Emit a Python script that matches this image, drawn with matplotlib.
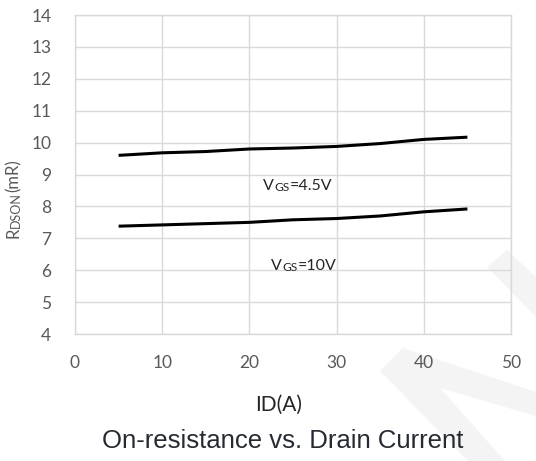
import matplotlib.pyplot as plt
from matplotlib.patches import Polygon

# drain current (A)
id_a = [5, 10, 15, 20, 25, 30, 35, 40, 45]
# on-resistance (mR)
rdson_45v = [9.60, 9.68, 9.72, 9.80, 9.83, 9.88, 9.97, 10.10, 10.17]
rdson_10v = [7.38, 7.42, 7.46, 7.50, 7.58, 7.62, 7.70, 7.83, 7.92]

x_ticks = [0, 10, 20, 30, 40, 50]
y_ticks = list(range(4, 15))

TICK_FONT = 'Lato'
GRID_COLOR = '#d9d9d9'
TEXT_GRAY = '#595959'
W, H = 536, 461

fig = plt.figure(figsize=(5.36, 4.61), dpi=100)

# faint watermark in the lower right corner (figure pixel coords)
wm = [
    [(487, 267), (507, 250), (536, 277), (536, 317)],
    [(380, 371), (403, 348), (536, 392), (536, 416), (440, 388), (505, 461), (468, 461)],
]
for pts in wm:
    fig.patches.append(Polygon([(x / W, 1 - y / H) for x, y in pts], closed=True,
                               transform=fig.transFigure, color='#f4f4f4', lw=0, zorder=-5))

ax = fig.add_axes([75 / W, 1 - 334 / H, 436 / W, 319 / H])
ax.patch.set_alpha(0)

ax.plot(id_a, rdson_45v, color='black', lw=2.2, solid_capstyle='butt')
ax.plot(id_a, rdson_10v, color='black', lw=2.2, solid_capstyle='butt')

ax.set_xlim(0, 50)
ax.set_ylim(4, 14)
ax.set_xticks(x_ticks)
ax.set_yticks(y_ticks)
ax.grid(True, color=GRID_COLOR, lw=1)
ax.set_axisbelow(True)
for s in ax.spines.values():
    s.set_color(GRID_COLOR)
    s.set_linewidth(1)
ax.tick_params(length=0, labelsize=12.5, labelcolor=TEXT_GRAY)
ax.tick_params(axis='x', pad=15)
ax.tick_params(axis='y', pad=17)
for lab in ax.get_xticklabels() + ax.get_yticklabels():
    lab.set_fontfamily(TICK_FONT)


def small_caps_label(x, y, big, small, rest, size=11.5):
    # first letter full size, the subscript part in smaller capitals
    t = ax.text(x, y, big, fontsize=size, fontfamily=TICK_FONT,
                color='#262626', ha='left', va='baseline')
    s = ax.annotate(small, xy=(1, 0), xycoords=t, fontsize=size * 0.75,
                    fontfamily=TICK_FONT, color='#262626', ha='left', va='bottom')
    ax.annotate(rest, xy=(1, 0), xycoords=s, fontsize=size,
                fontfamily=TICK_FONT, color='#262626', ha='left', va='bottom')


small_caps_label(21.6, 8.5, 'V', 'GS', '=4.5V')
small_caps_label(22.5, 6.0, 'V', 'GS', '=10V')

# y axis label, rotated
yl = ax.text(-0.122, 0.30, 'R', transform=ax.transAxes, fontsize=12,
             fontfamily=TICK_FONT, color=TEXT_GRAY, rotation=90,
             ha='right', va='bottom')
p = ax.annotate('DSON', xy=(1, 1), xycoords=yl, fontsize=9, fontfamily=TICK_FONT,
                color=TEXT_GRAY, rotation=90, ha='right', va='bottom')
ax.annotate('(mR)', xy=(1, 1), xycoords=p, fontsize=12, fontfamily=TICK_FONT,
            color=TEXT_GRAY, rotation=90, ha='right', va='bottom')

fig.text(279 / W, 1 - 405 / H, 'ID(A)', fontsize=15, fontfamily=TICK_FONT,
         color='#262626', ha='center', va='center')
fig.text(283 / W, 1 - 441 / H, 'On-resistance vs. Drain Current', fontsize=18.5,
         fontfamily='Liberation Sans', color='#262b33', ha='center', va='center')

fig.savefig('out.png', dpi=100)
